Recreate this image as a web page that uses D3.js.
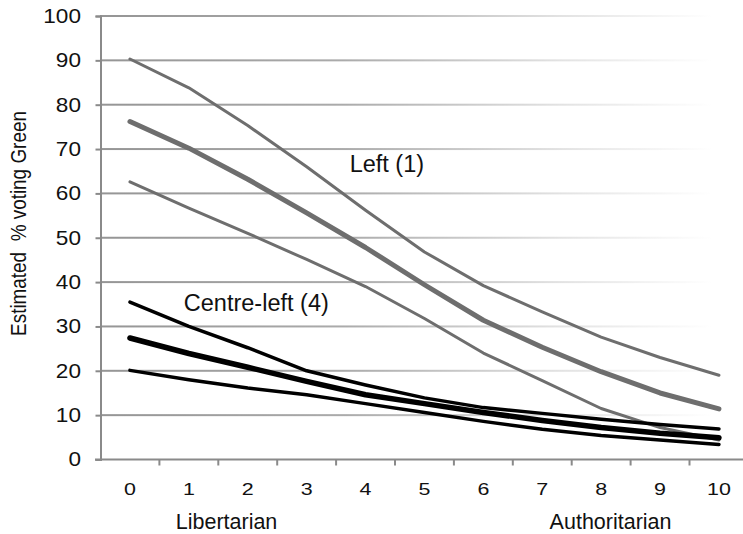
<!DOCTYPE html>
<html>
<head>
<meta charset="utf-8">
<script src="https://cdn.jsdelivr.net/npm/d3@7"></script>
<style>
  html, body { margin: 0; padding: 0; background: #fff; }
  svg { display: block; font-family: "Liberation Sans", Helvetica, Arial, sans-serif; }
</style>
</head>
<body>
<svg id="chart" width="743" height="534"></svg>
<script>
// Position on the libertarian–authoritarian scale (0 = libertarian, 10 = authoritarian)
const scalePositions = ["0", "1", "2", "3", "4", "5", "6", "7", "8", "9", "10"];
const yTicks = [0, 10, 20, 30, 40, 50, 60, 70, 80, 90, 100];

// Left (1): estimate with upper and lower bounds
const leftUpper = [90.3, 83.8, 75.3, 66.0, 56.2, 46.8, 39.2, 33.3, 27.6, 23.0, 19.0];
const leftMid   = [76.2, 70.2, 63.2, 55.6, 47.8, 39.4, 31.4, 25.3, 19.8, 15.0, 11.4];
const leftLower = [62.6, 56.7, 51.0, 45.1, 39.0, 31.8, 24.0, 17.8, 11.5, 7.2, 4.4];

// Centre-left (4): estimate with upper and lower bounds
const centreUpper = [35.5, 30.0, 25.2, 20.0, 16.8, 13.9, 11.7, 10.4, 9.1, 7.9, 6.9];
const centreMid   = [27.4, 23.9, 20.8, 17.6, 14.6, 12.6, 10.6, 8.8, 7.2, 5.9, 4.9];
const centreLower = [20.1, 18.0, 16.1, 14.6, 12.6, 10.6, 8.6, 6.8, 5.4, 4.4, 3.4];

const FONT = "\"Liberation Sans\", Helvetica, Arial, sans-serif";
const svg = d3.select("#chart");

const x = d3.scaleBand().domain(scalePositions).range([100.5, 748.4]).padding(0);
const y = d3.scaleLinear().domain([0, 100]).range([459.5, 16]);
const cx = c => x(c) + x.bandwidth() / 2;
const atPos = p => cx("0") + p * x.bandwidth();

// Fading gridline gradient
const defs = svg.append("defs");
const grad = defs.append("linearGradient")
  .attr("id", "gridFade").attr("gradientUnits", "userSpaceOnUse")
  .attr("x1", 100).attr("x2", 712).attr("y1", 0).attr("y2", 0);
grad.append("stop").attr("offset", 0).attr("stop-color", "#959595");
grad.append("stop").attr("offset", 0.4).attr("stop-color", "#ababab");
grad.append("stop").attr("offset", 0.75).attr("stop-color", "#e2e2e2");
grad.append("stop").attr("offset", 1).attr("stop-color", "#ffffff");

// Horizontal gridlines
svg.append("g").selectAll("rect")
  .data(yTicks.filter(d => d > 0))
  .join("rect")
  .attr("x", 100).attr("width", 612)
  .attr("y", d => y(d) - 1).attr("height", 2)
  .attr("fill", "url(#gridFade)");

// Y axis
const yStretch = 1.13;
const yAxis = svg.append("g")
  .attr("transform", "translate(100.5,0)")
  .call(d3.axisLeft(y).tickValues(yTicks).tickSize(5).tickPadding(14));
yAxis.select(".domain").attr("stroke", "#8a8a8a").attr("stroke-width", 2);
yAxis.selectAll(".tick line").attr("stroke", "#8a8a8a").attr("stroke-width", 2);
yAxis.selectAll(".tick text")
  .attr("font-size", 20).attr("fill", "#111").attr("font-family", FONT)
  .attr("x", -19.5 / yStretch)
  .attr("transform", `scale(${yStretch},1)`);

// X axis with tick marks between categories
const xStretch = 1.3;
const xAxis = svg.append("g")
  .attr("transform", `translate(0,${y(0)})`)
  .call(d3.axisBottom(x).tickSize(0));
xAxis.select(".domain").remove();
xAxis.selectAll(".tick text")
  .attr("font-size", 16.5).attr("fill", "#111").attr("font-family", FONT)
  .attr("y", 35.5).attr("dy", null)
  .attr("transform", `scale(${xStretch},1)`);
xAxis.append("line")
  .attr("x1", 95).attr("x2", 760).attr("y1", 0).attr("y2", 0)
  .attr("stroke", "#8a8a8a").attr("stroke-width", 2);
xAxis.selectAll("line.sep")
  .data(scalePositions.slice(1))
  .join("line").attr("class", "sep")
  .attr("x1", d => x(d)).attr("x2", d => x(d))
  .attr("y1", 0).attr("y2", 6)
  .attr("stroke", "#8a8a8a").attr("stroke-width", 2);

// Axis end labels
const axisLabels = [
  { text: "Libertarian", pos: 1.64 },
  { text: "Authoritarian", pos: 8.16 }
];
svg.append("g").selectAll("text")
  .data(axisLabels)
  .join("text")
  .attr("x", d => atPos(d.pos))
  .attr("y", 529)
  .attr("text-anchor", "middle")
  .attr("font-size", 21.5).attr("fill", "#111")
  .text(d => d.text);

// Y axis title
svg.append("text")
  .attr("transform", "translate(25.5,223.5) rotate(-90) scale(0.86,1)")
  .attr("text-anchor", "middle")
  .attr("font-size", 22).attr("fill", "#111")
  .text("Estimated  % voting Green")
  .style("white-space", "pre");

// Lines
const line = d3.line()
  .x((d, i) => cx(scalePositions[i]))
  .y(d => y(d));

const series = [
  { values: leftUpper, color: "#6e6e6e", width: 3 },
  { values: leftMid, color: "#6e6e6e", width: 5 },
  { values: leftLower, color: "#6e6e6e", width: 3 },
  { values: centreUpper, color: "#000", width: 3.5 },
  { values: centreLower, color: "#000", width: 3.5 },
  { values: centreMid, color: "#000", width: 5.5 }
];

svg.append("g").selectAll("path")
  .data(series)
  .join("path")
  .attr("d", d => line(d.values))
  .attr("fill", "none")
  .attr("stroke", d => d.color)
  .attr("stroke-width", d => d.width)
  .attr("stroke-linecap", "round")
  .attr("stroke-linejoin", "round");

// Group labels
const groupLabels = [
  { text: "Left (1)", pos: 3.73, value: 64.8 },
  { text: "Centre-left (4)", pos: 0.915, value: 33.5 }
];
svg.append("g").selectAll("text")
  .data(groupLabels)
  .join("text")
  .attr("x", d => atPos(d.pos))
  .attr("y", d => y(d.value))
  .attr("font-size", 23.5).attr("fill", "#111")
  .text(d => d.text);
</script>
</body>
</html>
